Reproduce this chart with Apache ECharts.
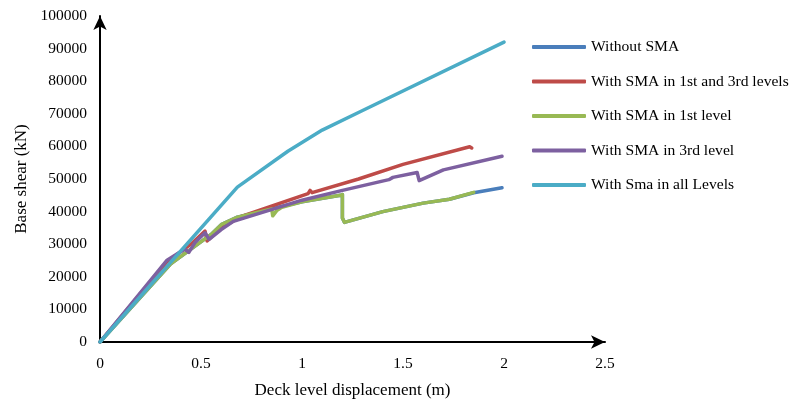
<!DOCTYPE html>
<html>
<head>
<meta charset="utf-8">
<script src="https://cdn.jsdelivr.net/npm/echarts@6/dist/echarts.min.js"></script>
<style>html,body{margin:0;padding:0;background:#fff}#c{width:795px;height:400px}</style>
</head>
<body>
<div id="c"></div>
<script>
var seriesNames = ['Without SMA', 'With SMA in 1st and 3rd levels', 'With SMA in 1st level', 'With SMA in 3rd level', 'With Sma in all Levels'];
var xTickLabels = ['0', '0.5', '1', '1.5', '2', '2.5'];
var yTickLabels = ['0', '10000', '20000', '30000', '40000', '50000', '60000', '70000', '80000', '90000', '100000'];

var withoutSMA = [[0,0],[0.35,24000],[0.45,28500],[0.55,33000],[0.6,36000],[0.68,38300],[0.88,41300],[1.0,43000],[1.19,45000],[1.2,45200],[1.2,38000],[1.21,36700],[1.4,40000],[1.6,42600],[1.73,43800],[1.85,45800],[1.99,47300]];
var sma1and3 = [[0,0],[0.33,24500],[0.45,30000],[0.52,34000],[0.53,31000],[0.6,35000],[0.7,38500],[1.03,45500],[1.04,46500],[1.05,45800],[1.28,50000],[1.5,54500],[1.83,59900],[1.84,59500]];
var sma1 = [[0,0],[0.35,24000],[0.45,28500],[0.55,33000],[0.6,36000],[0.68,38300],[0.85,40800],[0.855,38700],[0.875,40300],[0.9,41300],[1.0,43000],[1.19,45000],[1.2,45200],[1.2,38000],[1.21,36700],[1.4,40000],[1.6,42600],[1.73,43800],[1.85,45900]];
var sma3 = [[0,0],[0.33,25000],[0.42,28500],[0.44,27500],[0.47,30500],[0.52,33500],[0.54,31500],[0.6,34500],[0.66,37000],[1.0,43500],[1.2,46500],[1.43,49800],[1.45,50500],[1.57,52000],[1.58,49500],[1.7,52800],[1.99,57000]];
var smaAll = [[0,0],[0.68,47500],[0.93,58500],[1.1,65000],[1.3,71000],[2.0,92000]];

var colors = ['#4A7EBB', '#BE4B48', '#98B954', '#7D60A0', '#4BACC6'];
var datasets = [withoutSMA, sma1and3, sma1, sma3, smaAll];
var font = 'Liberation Serif';

var chart = echarts.init(document.getElementById('c'));
chart.setOption({
  animation: false,
  color: colors,
  grid: { left: 100, right: 190, top: 16, bottom: 58, containLabel: false, outerBoundsMode: 'none' },
  legend: {
    orient: 'vertical', left: 527, top: 34,
    icon: 'roundRect', itemWidth: 54, itemHeight: 4, itemGap: 18.5,
    textStyle: { fontFamily: font, fontSize: 15.6, color: '#000', lineHeight: 16 },
    data: seriesNames
  },
  xAxis: {
    type: 'value', min: 0, max: 2.5, interval: 0.5,
    name: 'Deck level displacement (m)', nameLocation: 'middle', nameGap: 40,
    nameTextStyle: { fontFamily: font, fontSize: 17, color: '#000' },
    axisLine: { show: true, lineStyle: { color: '#000', width: 2 }, symbol: ['none', 'arrow'], symbolSize: [10, 14] },
    axisTick: { show: false },
    splitLine: { show: false },
    axisLabel: { fontFamily: font, fontSize: 15.5, color: '#000', margin: 14,
      formatter: function (v, i) { return xTickLabels[Math.round(v / 0.5)]; } }
  },
  yAxis: {
    type: 'value', min: 0, max: 100000, interval: 10000,
    name: 'Base shear (kN)', nameLocation: 'middle', nameGap: 70, nameRotate: 90,
    nameTextStyle: { fontFamily: font, fontSize: 17, color: '#000' },
    axisLine: { show: true, lineStyle: { color: '#000', width: 2 }, symbol: ['none', 'arrow'], symbolSize: [10, 14] },
    axisTick: { show: false },
    splitLine: { show: false },
    axisLabel: { fontFamily: font, fontSize: 15.5, color: '#000', margin: 13,
      formatter: function (v) { return yTickLabels[Math.round(v / 10000)]; } }
  },
  series: datasets.map(function (d, i) {
    return {
      name: seriesNames[i], type: 'line', data: d, symbol: 'none', z: 2 + i,
      lineStyle: { width: 3.5, color: colors[i], cap: 'round', join: 'round' }
    };
  })
});
</script>
</body>
</html>
